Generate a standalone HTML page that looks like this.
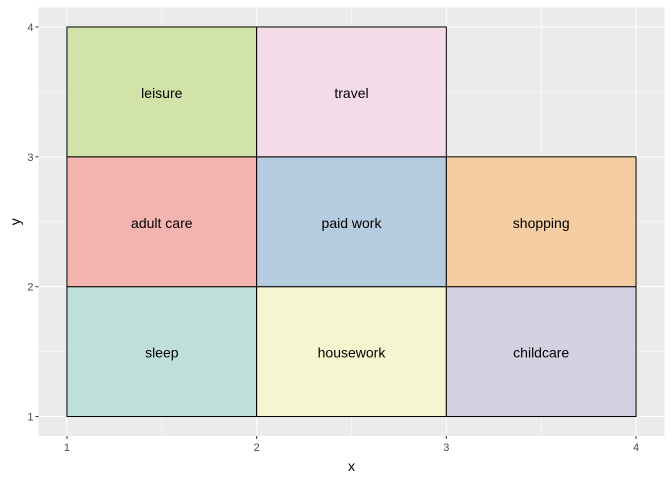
<!DOCTYPE html>
<html><head><meta charset="utf-8"><style>body{margin:0;background:#fff}svg{display:block;font-family:"Liberation Sans",sans-serif}</style></head>
<body>
<svg id="c" width="672" height="480"></svg>
<script>
const labels=["sleep","housework","childcare","adult care","paid work","shopping","leisure","travel"];
const xs=[1,2,3,1,2,3,1,2];
const ys=[1,1,1,2,2,2,3,3];
const colors=["#bfe0da","#f5f5d0","#d5d1e3","#f4b5b0","#b6cce0","#f5cda2","#d1e3a8","#f4dbe8"];
const xTicks=[1,2,3,4];
const yTicks=[1,2,3,4];
const NS="http://www.w3.org/2000/svg";
const svg=document.getElementById('c');
const L=38.5,R=664.5,T=7.5,B=436;
const X=v=>L+(v-0.85)/(3.3)*(R-L);
const Y=v=>B-(v-0.85)/(3.3)*(B-T);
function mk(t,a,p){const e=document.createElementNS(NS,t);for(const k in a)e.setAttribute(k,a[k]);(p||svg).appendChild(e);return e;}
const bg=mk('rect',{x:L,y:T,width:R-L,height:B-T,fill:'#ebebeb'});


for(let i=0;i<xTicks.length;i++){
 const v=xTicks[i];
 if(i<xTicks.length-1){const m=mk('line',{x1:X(v+0.5),x2:X(v+0.5),y1:T,y2:B,stroke:'#fff','stroke-width':0.5});}
 const g=mk('line',{x1:X(v),x2:X(v),y1:T,y2:B,stroke:'#fff','stroke-width':1});
 
 const tk=mk('line',{x1:X(v),x2:X(v),y1:B,y2:B+3,stroke:'#333'});
 
 const t=mk('text',{x:X(v),y:B+15,'text-anchor':'middle','font-size':11,fill:'#4d4d4d'});t.textContent=v;
 
}
for(let i=0;i<yTicks.length;i++){
 const v=yTicks[i];
 if(i<yTicks.length-1){const m=mk('line',{x1:L,x2:R,y1:Y(v+0.5),y2:Y(v+0.5),stroke:'#fff','stroke-width':0.5});}
 const g=mk('line',{x1:L,x2:R,y1:Y(v),y2:Y(v),stroke:'#fff','stroke-width':1});
 
 const tk=mk('line',{x1:L-3,x2:L,y1:Y(v),y2:Y(v),stroke:'#333'});
 
 const t=mk('text',{x:L-5,y:Y(v)+4,'text-anchor':'end','font-size':11,fill:'#4d4d4d'});t.textContent=v;
 
}
for(let i=0;i<labels.length;i++){
 const r=mk('rect',{x:X(xs[i]),y:Y(ys[i]+1),width:X(xs[i]+1)-X(xs[i]),height:Y(ys[i])-Y(ys[i]+1),fill:colors[i],stroke:'#000','stroke-width':1});
 
 const t=mk('text',{x:X(xs[i]+0.5),y:Y(ys[i]+0.5)+6,'text-anchor':'middle','font-size':14,fill:'#000'});t.textContent=labels[i];
 
}
const xt=mk('text',{x:(L+R)/2,y:471,'text-anchor':'middle','font-size':14,fill:'#000'});xt.textContent='x';

const yt=mk('text',{x:20,y:(T+B)/2,'text-anchor':'middle','font-size':14,fill:'#000',transform:`rotate(-90 20 ${(T+B)/2})`});yt.textContent='y';

</script>
</body></html>
